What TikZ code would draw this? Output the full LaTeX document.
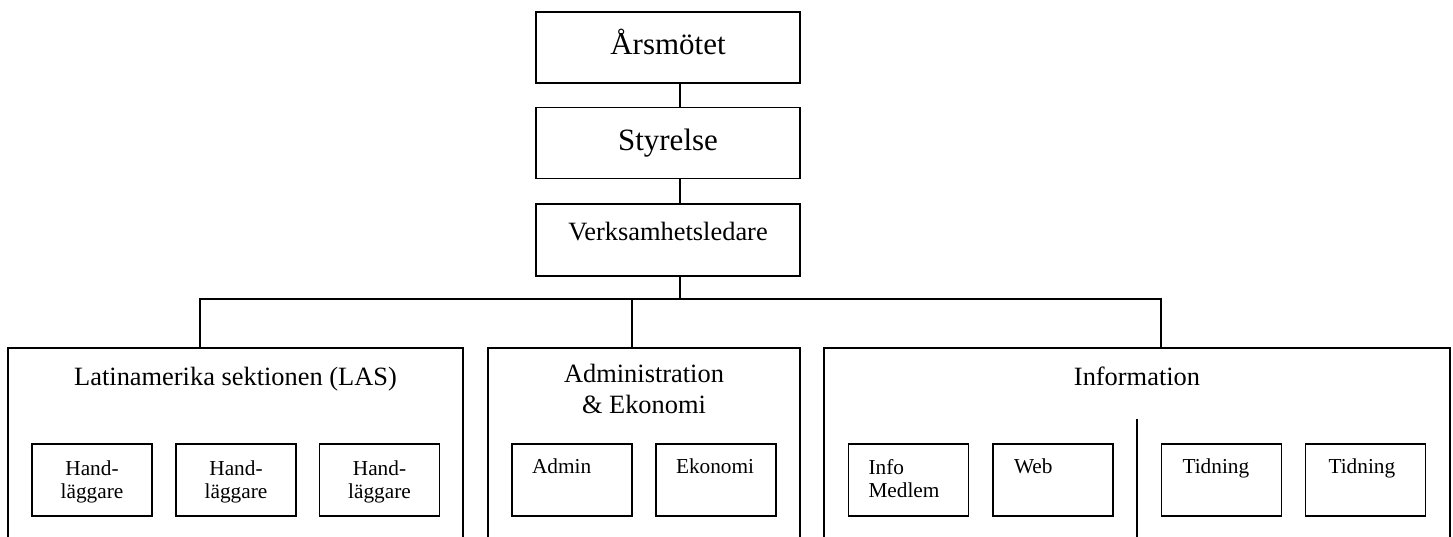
\documentclass[tikz,border=0pt]{standalone}
\usepackage{fontspec}
\setmainfont{Liberation Serif}
\begin{document}
\begin{tikzpicture}[x=1pt,y=-1pt,line width=1.8pt,
  box/.style={draw,rectangle,inner sep=0pt,line width=1.8pt},
  topbox/.style={box,minimum width=264pt,minimum height=71pt},
  group/.style={box,minimum height=260pt},
  sub/.style={box,minimum width=120pt,minimum height=72pt},
  big/.style={inner sep=0pt,font=\fontsize{31}{36}\selectfont},
  mid/.style={inner sep=0pt,font=\fontsize{26.4}{31}\selectfont},
  small/.style={inner sep=0pt,font=\fontsize{21.3}{22.5}\selectfont},
  divider/.style={line width=1.4pt}]
\path[use as bounding box,clip] (0,0) rectangle (1453,536);

% management chain
\node[topbox] (ars) at (668,47.5) {};
\node[big,anchor=base] (arsT) at ([yshift=-43pt]ars.north) {Årsmötet};
\node[topbox] (sty) at (668,143) {};
\node[big,anchor=base] (styT) at ([yshift=-44pt]sty.north) {Styrelse};
\node[topbox,minimum height=72pt] (verk) at (668,240) {};
\node[mid,anchor=base] (verkT) at ([yshift=-37pt]verk.north) {Verksamhetsledare};

% departments (open at the bottom edge of the page)
\node[group,minimum width=455pt] (las) at (235.5,478) {};
\node[mid,anchor=base] (lasT) at ([yshift=-38pt]las.north) {Latinamerika sektionen (LAS)};
\node[group,minimum width=312pt] (adm) at (644,478) {};
\node[mid,anchor=base,align=center] (admT) at ([yshift=-66pt]adm.north) {Administration\\\& Ekonomi};
\node[group,minimum width=626pt] (info) at (1137,478) {};
\node[mid,anchor=base] (infoT) at ([yshift=-38pt]info.north) {Information};

% connectors
\coordinate (spine) at (680,299);
\coordinate (busL) at (200,299);
\coordinate (busM) at (632,299);
\coordinate (busR) at (1161,299);
\draw (ars.south -| spine) -- (sty.north -| spine);
\draw (sty.south -| spine) -- (verk.north -| spine);
\draw (verk.south -| spine) -- (spine);
\draw (las.north -| busL) -- (busL) -- (busR) -- (info.north -| busR);
\draw (busM) -- (adm.north -| busM);

% LAS units
\node[sub] (h1) at (92,480) {};
\node[sub] (h2) at (236,480) {};
\node[sub] (h3) at (379.5,480) {};
\node[small,anchor=base,align=center] (h1T) at ([yshift=-55pt]h1.north) {Hand-\\läggare};
\node[small,anchor=base,align=center] (h2T) at ([yshift=-55pt]h2.north) {Hand-\\läggare};
\node[small,anchor=base,align=center] (h3T) at ([yshift=-55pt]h3.north) {Hand-\\läggare};

% administration units
\node[sub] (a1) at (572,480) {};
\node[sub] (a2) at (716,480) {};
\node[small,anchor=base west] (a1T) at ([xshift=20pt,yshift=-30pt]a1.north west) {Admin};
\node[small,anchor=base west] (a2T) at ([xshift=20pt,yshift=-30pt]a2.north west) {Ekonomi};

% information units
\node[sub] (i1) at (908.5,480) {};
\node[sub] (i2) at (1053,480) {};
\node[sub] (i3) at (1221.5,480) {};
\node[sub] (i4) at (1365.5,480) {};
\node[small,anchor=base west,align=left] (i1T) at ([xshift=20pt,yshift=-54pt]i1.north west) {Info\\Medlem};
\node[small,anchor=base west] (i2T) at ([xshift=21pt,yshift=-30pt]i2.north west) {Web};
\node[small,anchor=base west] (i3T) at ([xshift=21pt,yshift=-30pt]i3.north west) {Tidning};
\node[small,anchor=base west] (i4T) at ([xshift=23pt,yshift=-30pt]i4.north west) {Tidning};

\coordinate (divTop) at (1137,419);
\draw[divider] (divTop) -- (divTop |- info.south);
\end{tikzpicture}
\end{document}
